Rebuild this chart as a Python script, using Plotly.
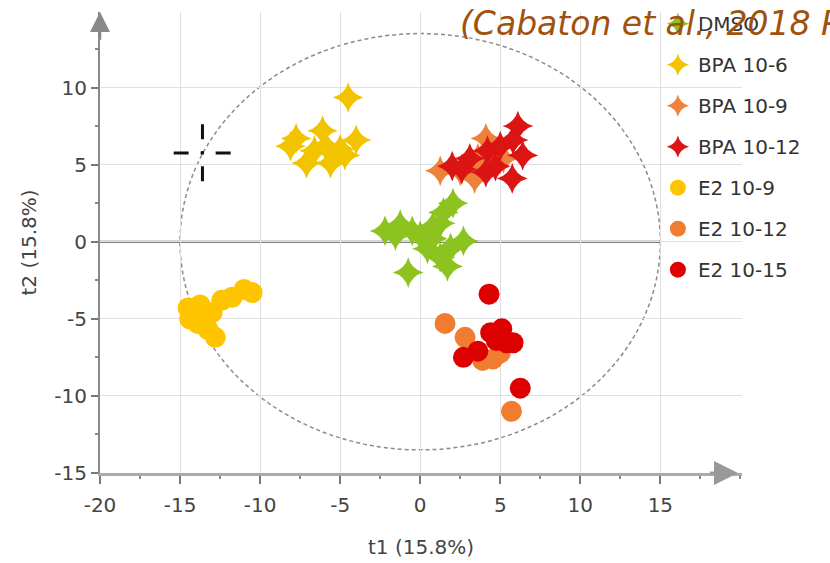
import plotly.graph_objects as go

# ---------------- data ----------------
dmso_t1 = [-2.2, -1.25, -0.5, 0.0, 0.75, 1.45, 2.05, 1.25, 2.7, 1.9, 1.25, 1.7, -0.75, -1.55, 0.45, 0.8]
dmso_t2 = [0.7, 1.1, 0.7, 0.4, 0.2, 1.9, 2.5, 1.2, 0.05, -0.4, -1.0, -1.6, -2.0, 0.4, -0.45, 1.0]

bpa6_t1 = [-4.5, -7.75, -6.1, -4.0, -7.1, -5.6, -5.0, -6.6, -8.1, -5.9, -4.7]
bpa6_t2 = [9.35, 6.7, 7.2, 6.6, 5.1, 5.1, 6.0, 5.9, 6.2, 6.2, 5.6]

bpa9_t1 = [4.1, 1.25, 2.5, 3.6, 5.2, 3.4, 4.4]
bpa9_t2 = [6.7, 4.6, 4.6, 5.4, 5.4, 4.1, 5.8]

bpa12_t1 = [2.0, 3.1, 4.2, 4.1, 6.1, 5.8, 6.4, 5.75, 4.7, 5.0, 2.6]
bpa12_t2 = [4.9, 5.4, 5.9, 4.5, 7.5, 6.6, 5.6, 4.1, 4.9, 6.2, 4.7]

e2_9_t1 = [-11.0, -10.5, -11.75, -14.5, -13.75, -13.0, -13.9, -13.25, -12.8, -12.4, -14.4]
e2_9_t2 = [-3.1, -3.3, -3.6, -4.3, -4.1, -4.6, -5.3, -5.7, -6.2, -3.8, -5.0]

e2_12_t1 = [1.55, 2.8, 4.55, 5.7, 3.9, 5.0]
e2_12_t2 = [-5.3, -6.2, -7.6, -11.0, -7.7, -7.2]

e2_15_t1 = [4.3, 2.7, 3.6, 4.4, 5.1, 5.4, 5.8, 6.25, 4.75]
e2_15_t2 = [-3.4, -7.5, -7.1, -5.9, -5.65, -6.55, -6.55, -9.5, -6.4]

group_names = ["DMSO", "BPA 10-6", "BPA 10-9", "BPA 10-12", "E2 10-9", "E2 10-12", "E2 10-15"]

# Hotelling T2 ellipse semi-axes
ellipse_a = 15.0
ellipse_b = 13.5

# crosshair marker position
cross_t1 = -13.6
cross_t2 = 5.75
cross_arm = 1.8

x_ticks = [-20, -15, -10, -5, 0, 5, 10, 15]
x_ticktext = ["-20", "-15", "-10", "-5", "0", "5", "10", "15"]
y_ticks = [-15, -10, -5, 0, 5, 10]
y_ticktext = ["-15", "-10", "-5", "0", "5", "10"]

# ---------------- figure ----------------
groups = [
    (group_names[0], dmso_t1, dmso_t2, "#8CC31E", "star-diamond", 22),
    (group_names[1], bpa6_t1, bpa6_t2, "#F2C400", "star-diamond", 22),
    (group_names[2], bpa9_t1, bpa9_t2, "#EE823A", "star-diamond", 22),
    (group_names[3], bpa12_t1, bpa12_t2, "#DC1414", "star-diamond", 22),
    (group_names[4], e2_9_t1, e2_9_t2, "#FFC400", "circle", 21),
    (group_names[5], e2_12_t1, e2_12_t2, "#F07C32", "circle", 21),
    (group_names[6], e2_15_t1, e2_15_t2, "#DD0000", "circle", 21),
]

FONT = "DejaVu Sans"

fig = go.Figure()

# crosshair (dashed black cross)
fig.add_trace(go.Scatter(
    x=[cross_t1 - cross_arm, cross_t1 + cross_arm], y=[cross_t2, cross_t2],
    mode="lines", line=dict(color="#111", width=3, dash="15px,12px,3px,12px"),
    showlegend=False, hoverinfo="skip"))
fig.add_trace(go.Scatter(
    x=[cross_t1, cross_t1], y=[cross_t2 + cross_arm * 16 / 15.4, cross_t2 - cross_arm * 16 / 15.4],
    mode="lines", line=dict(color="#111", width=3, dash="15px,12px,3px,12px"),
    showlegend=False, hoverinfo="skip"))

for i, (name, xs, ys, col, sym, sz) in enumerate(groups):
    fig.add_trace(go.Scatter(
        x=xs, y=ys, mode="markers", name=name, legendgroup=f"g{i}",
        marker=dict(symbol=sym, size=sz, color=col, line=dict(width=0))))

# T2 ellipse
fig.add_shape(type="circle", xref="x", yref="y",
              x0=-ellipse_a, x1=ellipse_a, y0=-ellipse_b, y1=ellipse_b,
              line=dict(color="#8a8a8a", width=1.5, dash="4px,3px"), layer="below")
# zero line
fig.add_shape(type="line", xref="x", yref="y", x0=x_ticks[0], x1=x_ticks[-1], y0=0, y1=0,
              line=dict(color="#555", width=2), layer="below")

# axis arrows
fig.add_annotation(x=19.85, y=-15, ax=18.0, ay=-15, xref="x", yref="y", axref="x", ayref="y",
                   text="", showarrow=True, arrowhead=2, arrowsize=1.6, arrowwidth=3, arrowcolor="#999")
fig.add_annotation(x=-20, y=14.9, ax=-20, ay=13.0, xref="x", yref="y", axref="x", ayref="y",
                   text="", showarrow=True, arrowhead=2, arrowsize=1.6, arrowwidth=2.5, arrowcolor="#888")

# citation
fig.add_annotation(text="(Cabaton et al., 2018 PLoS One)", xref="paper", yref="paper",
                   x=0.5576, y=0.974, xanchor="left", yanchor="middle", showarrow=False,
                   font=dict(family=FONT, size=33, color="#A0520C", style="italic"))

tickfont = dict(family=FONT, size=20, color="#444")
fig.update_layout(
    width=830, height=563,
    margin=dict(l=100, r=88, t=12, b=90, autoexpand=False),
    paper_bgcolor="white", plot_bgcolor="white",
    font=dict(family=FONT, color="#333"),
    showlegend=True,
    legend=dict(x=0.869, y=1.017, xanchor="left", yanchor="top", maxheight=600,
                font=dict(family=FONT, size=20, color="#333"),
                bgcolor="rgba(0,0,0,0)", tracegroupgap=12, itemsizing="trace"),
    xaxis=dict(range=[-20, 20.1], tickvals=x_ticks, ticktext=x_ticktext, ticks="outside",
               ticklen=8, tickwidth=2, automargin=False,
               tickcolor="#777", showline=True, linecolor="#aaa", linewidth=3,
               showgrid=True, gridcolor="#e0e0e0", gridwidth=1, zeroline=False,
               tickfont=tickfont, ticklabelstandoff=4,
               minor=dict(dtick=2.5, ticks="outside", ticklen=3, tickcolor="#888", showgrid=False),
               title=dict(text="t1 (15.8%)", font=dict(family=FONT, size=20, color="#444"), standoff=24)),
    yaxis=dict(range=[-15, 14.9], tickvals=y_ticks, ticktext=y_ticktext, ticks="outside",
               ticklen=7, tickwidth=2, automargin=False,
               tickcolor="#777", showline=True, linecolor="#888", linewidth=2,
               showgrid=True, gridcolor="#e0e0e0", gridwidth=1, zeroline=False,
               tickfont=tickfont, ticklabelstandoff=0,
               minor=dict(dtick=2.5, ticks="outside", ticklen=3, tickcolor="#888", showgrid=False),
               title=dict(text="t2 (15.8%)", font=dict(family=FONT, size=20, color="#444"), standoff=12)),
)

fig.write_html("out.html", config={"displayModeBar": False},
               post_script="document.body.style.margin='0';")
